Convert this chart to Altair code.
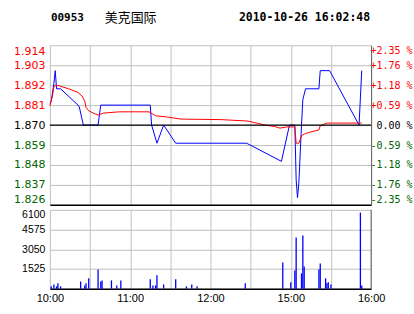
import altair as alt
import pandas as pd

# ---- data ----
stock_code = "00953"
stock_name = "美克国际"
timestamp = "2010-10-26 16:02:48"
prev_close = 1.870

price_ticks = [1.826, 1.837, 1.848, 1.859, 1.870, 1.881, 1.892, 1.903, 1.914]
vol_ticks = [0, 1525, 3050, 4575, 6100]
time_ticks = [0, 30, 60, 90, 120, 150, 180, 210, 240]   # trading minutes
time_labels = ["10:00", "11:00", "12:00", "15:00", "16:00"]

price_min = [0, 1, 3, 4, 5, 8, 21, 22, 25, 36, 38, 75, 76, 80, 85, 94, 147, 173, 179,
             183, 184, 185, 186, 188, 189, 191, 201, 202, 209, 231, 232, 233]
price_val = [1.882, 1.883, 1.893, 1.900, 1.890, 1.890, 1.881, 1.880, 1.870, 1.870, 1.881,
             1.881, 1.870, 1.860, 1.870, 1.860, 1.860, 1.850, 1.870,
             1.870, 1.840, 1.830, 1.838, 1.870, 1.884, 1.890, 1.890, 1.900, 1.900,
             1.870, 1.885, 1.900]

avg_min = [0, 2, 3, 4, 7, 14, 21, 24, 26, 27, 29, 33, 36, 38, 40, 52, 74, 79, 87, 98, 128,
           148, 155, 161, 168, 172, 177, 183, 184, 186, 188, 191, 194, 201, 202, 207, 233]
avg_val = [1.8805, 1.8864, 1.8910, 1.8920, 1.8916, 1.8900, 1.8880, 1.8860, 1.8834, 1.8797,
           1.8779, 1.8764, 1.8755, 1.8760, 1.8766, 1.8773, 1.8773, 1.8751, 1.8745, 1.8733,
           1.8730, 1.8722, 1.8710, 1.8700, 1.8692, 1.8683, 1.8690, 1.8690, 1.8600, 1.8600,
           1.8641, 1.8654, 1.8660, 1.8673, 1.8696, 1.8711, 1.8711]

vol_min = [1, 3, 5, 6, 8, 23, 26, 27, 29, 36, 38, 39, 46, 50, 53, 75, 77, 79, 80, 85, 94,
           102, 106, 110, 146, 174, 180, 183, 184, 188, 189, 190, 201, 202, 206, 207, 208,
           210, 232, 233]
vol_val = [180, 330, 180, 410, 180, 560, 250, 410, 800, 1490, 560, 640, 640, 250, 640, 720,
           250, 250, 1030, 330, 720, 180, 330, 180, 410, 2030, 490, 1410, 3960, 1180, 4110,
           1720, 1490, 1950, 800, 410, 490, 330, 5890, 250]

price_df = pd.DataFrame({"t": price_min, "p": price_val})
avg_df = pd.DataFrame({"t": avg_min, "p": avg_val})
vol_df = pd.DataFrame({"t": vol_min, "v": vol_val})

GRID = "#c0c0c0"
RED = "#ff0000"
GREEN = "#006400"
W = 322

label_js = "[" + ",".join("'%s'" % s for s in time_labels) + "]"
time_label_expr = "datum.value % 60 == 0 ? " + label_js + "[datum.value / 60] : ''"

x_scale = alt.Scale(domain=[0, 240], nice=False, zero=False)
y_scale = alt.Scale(domain=[price_ticks[0], price_ticks[-1]], nice=False, zero=False)

x_top = alt.X("t:Q", scale=x_scale,
              axis=alt.Axis(values=time_ticks, labels=False, ticks=False, grid=True,
                            gridColor=GRID, domain=True, domainColor="black",
                            domainWidth=1.5, title=None))

color_cond = {"condition": [
    {"test": "datum.value > 1.8705", "value": RED},
    {"test": "datum.value < 1.8695", "value": GREEN}],
    "value": "black"}

left_axis = alt.Axis(values=price_ticks, format=".3f", title=None, ticks=False,
                     domain=False, grid=True, gridColor=GRID, labelPadding=5,
                     labelFlush=True, labelFont="DejaVu Sans", labelFontSize=11,
                     labelColor=color_cond)

pct_expr = ("(datum.value > 1.8705 ? '+' : (datum.value < 1.8695 ? '-' : '')) + "
            "format(abs((datum.value - 1.87) / 1.87 * 100), '.2f') + ' %'")
right_axis = alt.Axis(values=price_ticks, orient="right", title=None, ticks=False,
                      grid=False, domain=True, domainColor="#606060",
                      labelExpr=pct_expr, labelAlign="right", labelPadding=41,
                      labelFlush=True, labelFont="DejaVu Sans Mono", labelFontSize=10,
                      labelColor=color_cond)

price_line = alt.Chart(price_df).mark_line(color="#0000ff", strokeWidth=1).encode(
    x=x_top, y=alt.Y("p:Q", scale=y_scale, axis=left_axis))
avg_line = alt.Chart(avg_df).mark_line(color=RED, strokeWidth=1).encode(
    x=alt.X("t:Q", scale=x_scale), y=alt.Y("p:Q", scale=y_scale, axis=right_axis))
zero_rule = alt.Chart(pd.DataFrame({"p": [prev_close]})).mark_rule(
    color="black", strokeWidth=1.2).encode(y=alt.Y("p:Q", scale=y_scale, axis=None))

title_df = pd.DataFrame({"a": [stock_code], "b": [stock_name], "c": [timestamp]})
t1 = alt.Chart(title_df).mark_text(align="left", baseline="middle", font="DejaVu Sans Mono",
                                   fontWeight="bold", fontSize=11).encode(
    text="a:N", x=alt.value(1), y=alt.value(-27))
t2 = alt.Chart(title_df).mark_text(align="left", baseline="middle", font="Noto Sans CJK SC",
                                   fontSize=13).encode(
    text="b:N", x=alt.value(55), y=alt.value(-27))
t3 = alt.Chart(title_df).mark_text(align="right", baseline="middle", font="DejaVu Sans Mono",
                                   fontWeight="bold", fontSize=11.5).encode(
    text="c:N", x=alt.value(321), y=alt.value(-27))
# white frame anchor: fixes the chart origin at the page corner
anchor = alt.Chart(title_df).mark_rule(color="white", strokeWidth=1).encode(
    x=alt.value(-49), x2=alt.value(364), y=alt.value(-44))

top = alt.layer(anchor, price_line, avg_line, zero_rule, t1, t2, t3).resolve_axis(
    y="independent").properties(width=W, height=160)

x_bot = alt.X("t:Q", scale=x_scale,
              axis=alt.Axis(values=time_ticks, labelExpr=time_label_expr, ticks=False,
                            grid=True, gridColor=GRID, domain=True, domainColor="black",
                            domainWidth=1.5, labelPadding=4, labelFlush=False,
                            labelFont="Liberation Sans", labelFontSize=11,
                            labelColor="black", title=None))
v_scale = alt.Scale(domain=[0, vol_ticks[-1]], nice=False)
vol_bars = alt.Chart(vol_df).mark_rule(color="#0000ff", strokeWidth=1.3).encode(
    x=x_bot,
    y=alt.Y("v:Q", scale=v_scale,
            axis=alt.Axis(values=vol_ticks, format="d", title=None, ticks=False,
                          domain=False, grid=True, gridColor=GRID, labelPadding=5,
                          labelFlush=True, labelFont="Liberation Sans",
                          labelFontSize=10.5, labelColor="black",
                          labelExpr="datum.value == 0 ? '' : datum.label")),
    y2=alt.datum(0))
vol_right = alt.Chart(pd.DataFrame({"v": [0]})).mark_rule(color="#606060").encode(
    x=alt.value(W), y=alt.value(0), y2=alt.value(79))

bottom = alt.layer(vol_bars, vol_right).properties(width=W, height=79)

chart = alt.vconcat(top, bottom, spacing=5, bounds="flush").properties(
    padding=0,
    background="white",
).configure_view(stroke=None)

chart.save("out.html", embed_options={"renderer": "svg", "actions": False})
